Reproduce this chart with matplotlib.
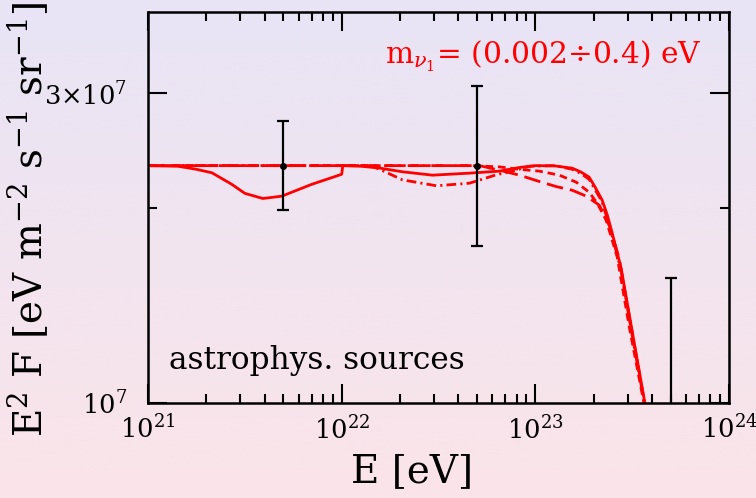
import numpy as np
import matplotlib
matplotlib.use('Agg')
import matplotlib.pyplot as plt
from matplotlib.ticker import FixedLocator, FixedFormatter, NullFormatter, LogLocator
from matplotlib.colors import LinearSegmentedColormap

plt.rcParams['font.family'] = ['DejaVu Serif']
plt.rcParams['mathtext.fontset'] = 'dejavuserif'
plt.rcParams['lines.scale_dashes'] = False

UNIT = 1e7  # flux values below are in units of 1e7 eV m^-2 s^-1 sr^-1

# solid curve
solid_logE = [21.0, 21.155, 21.25, 21.33, 21.433, 21.5, 21.593, 21.691, 21.845, 22.0,
              22.006, 22.1, 22.196, 22.314, 22.469, 22.66, 22.814, 22.918, 23.0, 23.1,
              23.191, 23.237, 23.278, 23.309, 23.345, 23.371, 23.397, 23.443, 23.5, 23.6]
solid_flux = [2.32, 2.315, 2.29, 2.262, 2.171, 2.103, 2.065, 2.082, 2.171, 2.25,
              2.32, 2.315, 2.30, 2.27, 2.243, 2.259, 2.275, 2.305, 2.32, 2.318,
              2.299, 2.267, 2.227, 2.149, 2.053, 1.95, 1.826, 1.613, 1.29, 0.875]

# dash-dot curve
dashdot_logE = [21.0, 22.15, 22.196, 22.314, 22.49, 22.66, 22.799, 22.881, 22.969, 23.1,
                23.191, 23.237, 23.278, 23.309, 23.345, 23.397, 23.443, 23.5, 23.6]
dashdot_flux = [2.32, 2.32, 2.29, 2.206, 2.16, 2.18, 2.246, 2.275, 2.315, 2.32,
                2.29, 2.255, 2.21, 2.13, 2.04, 1.81, 1.60, 1.285, 0.87]

# short-dashed curve
sdash_logE = [21.0, 22.66, 22.814, 22.918, 23.021, 23.124, 23.211, 23.278, 23.32,
              23.366, 23.423, 23.485, 23.6]
sdash_flux = [2.32, 2.32, 2.31, 2.29, 2.275, 2.243, 2.188, 2.111, 2.03,
              1.912, 1.677, 1.31, 0.87]

# long-dashed curve
ldash_logE = [21.0, 22.711, 22.814, 22.918, 23.021, 23.108, 23.191, 23.263, 23.330,
              23.381, 23.433, 23.495, 23.6]
ldash_flux = [2.32, 2.32, 2.283, 2.243, 2.193, 2.154, 2.126, 2.082, 2.017,
              1.878, 1.670, 1.295, 0.87]

# error bars
err_E = [5e21, 5e22, 5e23]
err_center = [2.32, 2.32, 1.0]
err_low = [1.98, 1.744, 0.5]
err_high = [2.716, 3.08, 1.557]
point_E = [5e21, 5e22]
point_flux = [2.32, 2.32]

xticks = [1e21, 1e22, 1e23, 1e24]
xticklabels = [r'$10^{21}$', r'$10^{22}$', r'$10^{23}$', r'$10^{24}$']
yticks = [1e7, 3e7]
yticklabels = [r'$10^7$', r'$3{\times}10^7$']
yminor = [2e7]

fig = plt.figure(figsize=(7.56, 4.98), dpi=100)

# background gradient
bg = fig.add_axes([0, 0, 1, 1], zorder=-10)
cmap = LinearSegmentedColormap.from_list('bg', ['#e8e4f6', '#fbe4e9'])
bg.imshow(np.linspace(0, 1, 256).reshape(-1, 1), aspect='auto', cmap=cmap,
          extent=[0, 1, 0, 1])
bg.set_axis_off()

ax = fig.add_axes([148/756, 1-403/498, 581/756, 391/498])
ax.set_facecolor('none')
ax.set_xscale('log')
ax.set_yscale('log')
ax.set_xlim(1e21, 1e24)
ax.set_ylim(1e7, 4e7)

red = '#ff0000'
lw = 2.0
ax.plot(10**np.array(solid_logE), np.array(solid_flux)*UNIT, color=red, lw=lw,
        solid_capstyle='round', solid_joinstyle='round')
ax.plot(10**np.array(dashdot_logE), np.array(dashdot_flux)*UNIT, color=red, lw=lw,
        dashes=(7, 3, 1.5, 3))
ax.plot(10**np.array(sdash_logE), np.array(sdash_flux)*UNIT, color=red, lw=lw,
        dashes=(5.5, 3.5))
ax.plot(10**np.array(ldash_logE), np.array(ldash_flux)*UNIT, color=red, lw=lw,
        dashes=(12, 5))

c = np.array(err_center)
lo = c - np.array(err_low)
hi = np.array(err_high) - c
ax.errorbar(err_E, c*UNIT, yerr=[lo*UNIT, hi*UNIT], fmt='none', ecolor='black',
            elinewidth=1.6, capsize=4, capthick=1.6, zorder=5)
ax.plot(point_E, np.array(point_flux)*UNIT, 'o', color='black', ms=4, zorder=6)

# ticks
ax.xaxis.set_major_locator(FixedLocator(xticks))
ax.xaxis.set_major_formatter(FixedFormatter(xticklabels))
ax.xaxis.set_minor_locator(LogLocator(base=10, subs=np.arange(2, 10)))
ax.xaxis.set_minor_formatter(NullFormatter())
ax.yaxis.set_major_locator(FixedLocator(yticks))
ax.yaxis.set_major_formatter(FixedFormatter(yticklabels))
ax.yaxis.set_minor_locator(FixedLocator(yminor))
ax.yaxis.set_minor_formatter(NullFormatter())

ax.tick_params(which='both', direction='in', top=True, right=True, width=1.5,
               color='black')
ax.tick_params(which='major', length=14)
ax.tick_params(which='minor', length=6.5)
ax.tick_params(axis='x', which='major', labelsize=18.5, pad=9)
ax.tick_params(axis='y', which='major', labelsize=18.5, pad=15)
for s in ax.spines.values():
    s.set_linewidth(1.8)

fig.text(412/756, 1-472/498, 'E [eV]', fontsize=28, ha='center', va='center')
fig.text(28/756, 1-219/498, r'E$^2$ F [eV m$^{-2}$ s$^{-1}$ sr$^{-1}$]',
         fontsize=28, rotation=90, ha='center', va='center')

ax.text(0.036, 0.087, 'astrophys. sources', transform=ax.transAxes,
        fontsize=22.5, ha='left', va='baseline', color='black')
ax.text(0.952, 0.887, r'm$_{\nu_1}$= (0.002÷0.4) eV', transform=ax.transAxes,
        fontsize=21.3, ha='right', va='center', color=red)

fig.savefig('out.png', dpi=100)
